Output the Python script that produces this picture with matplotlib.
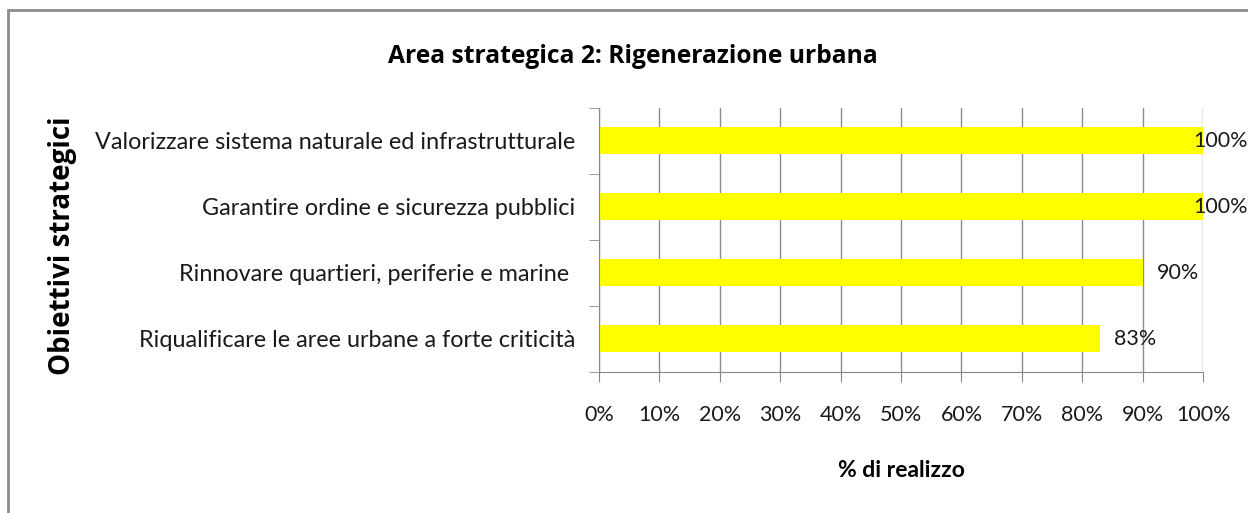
import matplotlib.pyplot as plt
from matplotlib.patches import Rectangle
from matplotlib.ticker import FixedLocator, PercentFormatter

# dati
obiettivi = [
    "Riqualificare le aree urbane a forte criticità",
    "Rinnovare quartieri, periferie e marine ",
    "Garantire ordine e sicurezza pubblici",
    "Valorizzare sistema naturale ed infrastrutturale",
]
realizzo = [0.83, 0.90, 1.00, 1.00]
etichette = ["83%", "90%", "100%", "100%"]

plt.rcParams['font.family'] = ['Lato', 'DejaVu Sans']

fig = plt.figure(figsize=(12.48, 5.13), dpi=100)
ax = fig.add_axes([0.48, 0.275, 0.484, 0.5146])

# cornice grigia del grafico
fig.patches.append(Rectangle((8 / 1248, -0.1), 1.2, 1 - 10 / 513 + 0.1,
                             transform=fig.transFigure, fill=False,
                             edgecolor='#8c8c8c', linewidth=2))

pos = list(range(len(obiettivi)))
ax.barh(pos, realizzo, height=0.41, color='#ffff00', zorder=2)

for y, v, t in zip(pos, realizzo, etichette):
    dx = -7 if v >= 1.0 else 10
    ax.annotate(t, (v, y), xytext=(dx, 0), textcoords='offset points',
                va='center', ha='left', fontsize=15.5, color='#1a1a1a',
                zorder=3)

ax.set_xlim(0, 1)
ax.set_ylim(-0.5, len(obiettivi) - 0.5)
ax.set_xticks([i / 10 for i in range(11)])
ax.xaxis.set_major_formatter(PercentFormatter(1.0, decimals=0))
ax.set_yticks(pos)
ax.set_yticklabels(obiettivi, fontsize=16.8)
ax.yaxis.set_minor_locator(FixedLocator([p + 0.5 for p in pos[:-1]] + [-0.5, len(pos) - 0.5]))
ax.tick_params(axis='y', which='major', length=0, pad=17, labelcolor='#1a1a1a')
ax.tick_params(axis='y', which='minor', length=7, color='#888888', direction='out')
ax.tick_params(axis='x', length=7, color='#888888', direction='out', labelsize=15.5,
               pad=17, labelcolor='#1a1a1a')

ax.grid(axis='x', color='#8c8c8c', linewidth=1, zorder=1)
for s in ['top', 'right']:
    ax.spines[s].set_visible(False)
for s in ['left', 'bottom']:
    ax.spines[s].set_color('#888888')

ax.set_xlabel('% di realizzo', fontsize=16.5, fontweight='bold', labelpad=25)
fig.text(0.05, 0.522, 'Obiettivi strategici', rotation=90, ha='center', va='center',
         fontsize=20, fontweight='bold', family=['Open Sans', 'DejaVu Sans'])
fig.text(0.507, 0.89, 'Area strategica 2: Rigenerazione urbana', ha='center', va='center',
         fontsize=17.7, fontweight='bold', family=['Open Sans', 'DejaVu Sans'])

fig.savefig('out.png', dpi=100)
